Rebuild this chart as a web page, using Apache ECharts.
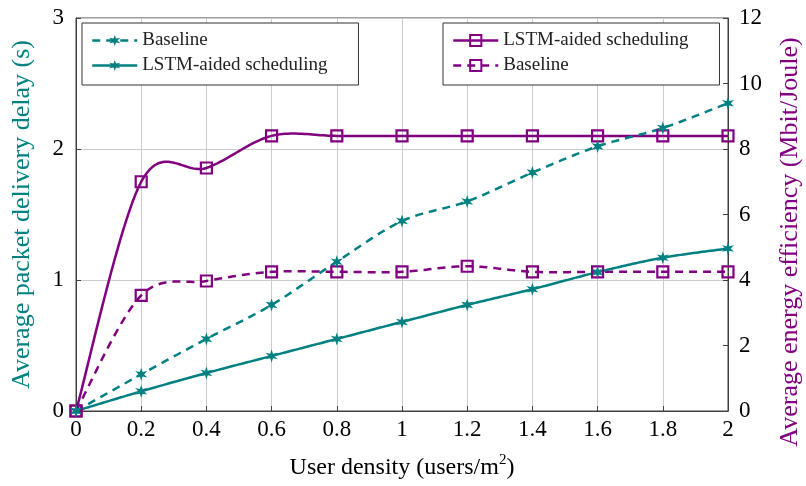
<!DOCTYPE html>
<html>
<head>
<meta charset="utf-8">
<script src="https://cdn.jsdelivr.net/npm/echarts@6/dist/echarts.min.js"></script>
<style>
  html, body { margin: 0; padding: 0; background: #fff; }
  #chart { width: 806px; height: 486px; }
</style>
</head>
<body>
<div id="chart"></div>
<script>
// User density (users/m^2)
const densities = [0, 0.2, 0.4, 0.6, 0.8, 1.0, 1.2, 1.4, 1.6, 1.8, 2.0];

// Average packet delivery delay (s) — left axis
const delayBaseline = [0, 0.28, 0.55, 0.81, 1.14, 1.45, 1.60, 1.82, 2.02, 2.16, 2.35];
const delayLstm = [0, 0.15, 0.29, 0.42, 0.55, 0.68, 0.81, 0.93, 1.06, 1.17, 1.24];

// Average energy efficiency (Mbit/Joule) — right axis
const energyLstm = [0, 7.0, 7.42, 8.4, 8.4, 8.4, 8.4, 8.4, 8.4, 8.4, 8.4];
const energyBaseline = [0, 3.53, 3.97, 4.25, 4.25, 4.25, 4.42, 4.25, 4.25, 4.25, 4.25];

const TEAL = '#008080';
const PURPLE = '#800080';
const SERIF = 'Liberation Serif';
const DASH = [8, 6];

// six-spoked asterisk mark
const ASTERISK = 'path://M0,-100 L20,-35 L87,-50 L40,0 L87,50 L20,35 L0,100 L-20,35 L-87,50 L-40,0 L-87,-50 L-20,-35 Z';

const pairs = ys => densities.map((x, i) => [x, ys[i]]);

// Series keep distinct names; the legend shows only the part before " ("
const legendLabel = name => name.replace(/ \(.*\)$/, '');

// Cardinal-spline curve through all points of the series, in pixel space
const SPLINE_K = 0.165;
const SAMPLES = 24;
function splineCurve(color, dash) {
  return function (params, api) {
    if (params.dataIndexInside !== 0) return null;
    const n = params.dataInsideLength;
    const p = [];
    for (let j = 0; j < n; j++) p.push(api.coord([api.value(0, j), api.value(1, j)]));
    const out = [p[0]];
    for (let i = 0; i < n - 1; i++) {
      const a = p[Math.max(i - 1, 0)], b = p[i], c = p[i + 1], d = p[Math.min(i + 2, n - 1)];
      const c1 = [b[0] + SPLINE_K * (c[0] - a[0]), b[1] + SPLINE_K * (c[1] - a[1])];
      const c2 = [c[0] - SPLINE_K * (d[0] - b[0]), c[1] - SPLINE_K * (d[1] - b[1])];
      for (let s = 1; s <= SAMPLES; s++) {
        const t = s / SAMPLES, u = 1 - t;
        out.push([
          u * u * u * b[0] + 3 * u * u * t * c1[0] + 3 * u * t * t * c2[0] + t * t * t * c[0],
          u * u * u * b[1] + 3 * u * u * t * c1[1] + 3 * u * t * t * c2[1] + t * t * t * c[1]
        ]);
      }
    }
    return {
      type: 'polyline',
      silent: true,
      shape: { points: out },
      style: { fill: null, stroke: color, lineWidth: 2.5, lineDash: dash || null, lineJoin: 'round' }
    };
  };
}

function curveSeries(ys, axis, color, dash) {
  return {
    type: 'custom', yAxisIndex: axis,
    data: pairs(ys),
    encode: { x: 0, y: 1 },
    renderItem: splineCurve(color, dash),
    clip: true,
    z: 2
  };
}

function markSeries(name, ys, axis, isSquare, color) {
  return {
    name: name,
    type: 'line', yAxisIndex: axis,
    data: pairs(ys),
    symbol: isSquare ? 'rect' : ASTERISK,
    symbolSize: isSquare ? 11 : [12, 13],
    showAllSymbol: true,
    lineStyle: { width: 0, opacity: 0 },
    itemStyle: isSquare
      ? { color: 'rgba(0,0,0,0)', borderColor: color, borderWidth: 2.2 }
      : { color: color },
    z: 3
  };
}

const chart = echarts.init(document.getElementById('chart'), null, { renderer: 'canvas' });

const legendBase = {
  orient: 'vertical',
  itemWidth: 45,
  itemHeight: 14,
  itemGap: 6,
  borderColor: '#333',
  borderWidth: 1,
  backgroundColor: '#fff',
  textStyle: { fontFamily: SERIF, fontSize: 19, color: '#222', lineHeight: 19 },
  formatter: legendLabel
};
const legendItem = (name, color, dash) => ({
  name: name,
  lineStyle: { color: color, width: 2.5, opacity: 1, type: dash ? DASH : 'solid' }
});

chart.setOption({
  animation: false,
  backgroundColor: '#fff',
  textStyle: { fontFamily: SERIF },
  grid: {
    left: 76, right: 78, top: 18, bottom: 75,
    outerBoundsMode: 'none',
    containLabel: false,
    show: true, borderColor: '#404040', borderWidth: 1
  },
  legend: [
    Object.assign({}, legendBase, {
      left: 82, top: 23,
      padding: [8, 31, 10, 9],
      data: [
        legendItem('Baseline (delay)', TEAL, true),
        legendItem('LSTM-aided scheduling (delay)', TEAL, false)
      ]
    }),
    Object.assign({}, legendBase, {
      left: 443, top: 23,
      padding: [8, 31, 10, 9],
      data: [
        legendItem('LSTM-aided scheduling (energy)', PURPLE, false),
        legendItem('Baseline (energy)', PURPLE, true)
      ]
    })
  ],
  xAxis: {
    type: 'value',
    min: 0, max: 2, interval: 0.2,
    name: 'User density (users/m{sup|2})',
    nameLocation: 'middle',
    nameGap: 42,
    nameTextStyle: {
      fontFamily: SERIF, fontSize: 24, color: '#000',
      rich: { sup: { fontFamily: SERIF, fontSize: 15, color: '#000', padding: [0, 0, 14, 0] } }
    },
    axisLine: { show: true, lineStyle: { color: '#404040', width: 1 } },
    axisTick: { show: true, inside: true, length: 5, lineStyle: { color: '#404040' } },
    axisLabel: {
      fontFamily: SERIF, fontSize: 23, color: '#000', margin: 7,
      formatter: v => String(+v.toFixed(1))
    },
    splitLine: { show: true, lineStyle: { color: '#cccccc', width: 1 } }
  },
  yAxis: [
    {
      type: 'value', position: 'left',
      min: 0, max: 3, interval: 1,
      name: 'Average packet delivery delay (s)',
      nameLocation: 'middle',
      nameGap: 41,
      nameTextStyle: { fontFamily: SERIF, fontSize: 26, color: TEAL },
      axisLine: { show: true, lineStyle: { color: '#404040', width: 1 } },
      axisTick: { show: true, inside: true, length: 5, lineStyle: { color: '#404040' } },
      axisLabel: { fontFamily: SERIF, fontSize: 23, color: '#000', margin: 12 },
      splitLine: { show: true, lineStyle: { color: '#cccccc', width: 1 } }
    },
    {
      type: 'value', position: 'right',
      min: 0, max: 12, interval: 2,
      name: 'Average energy efficiency (Mbit/Joule)',
      nameLocation: 'middle',
      nameGap: 49,
      nameTextStyle: { fontFamily: SERIF, fontSize: 26, color: PURPLE, padding: [0, 55, 0, 0] },
      axisLine: { show: true, lineStyle: { color: '#404040', width: 1 } },
      axisTick: { show: true, inside: true, length: 5, lineStyle: { color: '#404040' } },
      axisLabel: { fontFamily: SERIF, fontSize: 23, color: '#000', margin: 11 },
      splitLine: { show: false }
    }
  ],
  series: [
    curveSeries(energyLstm, 1, PURPLE, null),
    curveSeries(energyBaseline, 1, PURPLE, DASH),
    curveSeries(delayBaseline, 0, TEAL, DASH),
    curveSeries(delayLstm, 0, TEAL, null),
    markSeries('LSTM-aided scheduling (energy)', energyLstm, 1, true, PURPLE),
    markSeries('Baseline (energy)', energyBaseline, 1, true, PURPLE),
    markSeries('Baseline (delay)', delayBaseline, 0, false, TEAL),
    markSeries('LSTM-aided scheduling (delay)', delayLstm, 0, false, TEAL)
  ]
});
</script>
</body>
</html>
